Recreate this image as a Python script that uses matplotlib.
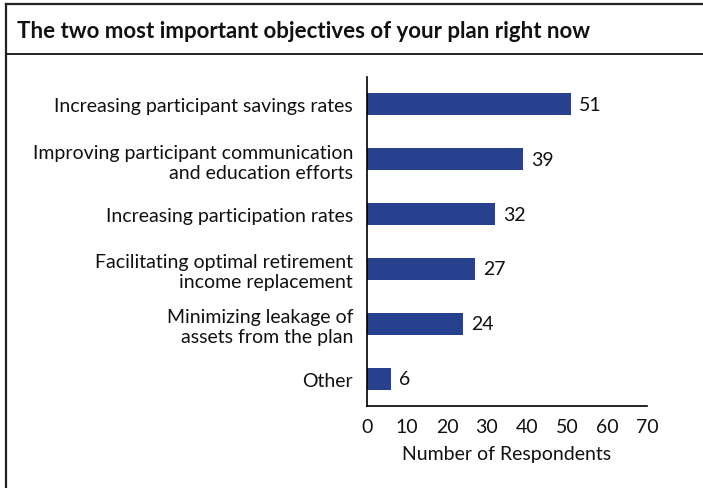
import matplotlib.pyplot as plt
from matplotlib.lines import Line2D

plt.rcParams['font.family'] = ['Lato', 'DejaVu Sans']

categories = [
    "Increasing participant savings rates",
    "Improving participant communication\nand education efforts",
    "Increasing participation rates",
    "Facilitating optimal retirement\nincome replacement",
    "Minimizing leakage of\nassets from the plan",
    "Other",
]
respondents = [51, 39, 32, 27, 24, 6]
x_ticks = [0, 10, 20, 30, 40, 50, 60, 70]

W, H = 703, 489
fig = plt.figure(figsize=(W / 100, H / 100), dpi=100)

# outer frame and title bar (open on right and bottom edges)
fig.add_artist(Line2D([6 / W, 6 / W], [0, 1 - 5 / H], color="#222222", lw=1.6))
fig.add_artist(Line2D([6 / W, 1], [1 - 5 / H, 1 - 5 / H], color="#222222", lw=1.6))
fig.add_artist(Line2D([6 / W, 1], [1 - 55 / H, 1 - 55 / H], color="#222222", lw=1.4))
fig.text(17 / W, 1 - 31 / H, "The two most important objectives of your plan right now",
         fontsize=16, fontweight="bold", va="center", ha="left", color="#111111")

ax = fig.add_axes([367 / W, 1 - 407 / H, 280 / W, (407 - 78) / H])
y = list(range(len(categories)))
ax.barh(y, respondents, height=0.4, color="#27418f")
for yi, v in zip(y, respondents):
    ax.text(v + 2, yi, str(v), va="center", ha="left", fontsize=14, color="#111111")

ax.set_ylim(5.5, -0.5)
ax.set_xlim(0, 70)
ax.set_xticks(x_ticks)
ax.set_yticks(y)
ax.set_yticklabels(categories, fontsize=14, linespacing=1.2)
ax.tick_params(axis="both", length=0, colors="#111111", labelsize=14)
ax.tick_params(axis="y", pad=10)
ax.tick_params(axis="x", pad=9)
for lab in ax.get_yticklabels():
    lab.set_multialignment("right")
ax.spines["top"].set_visible(False)
ax.spines["right"].set_visible(False)
ax.spines["left"].set_linewidth(1.2)
ax.spines["bottom"].set_linewidth(1.2)
ax.set_xlabel("Number of Respondents", fontsize=14, labelpad=7, color="#111111")

fig.savefig("out.png", dpi=100)
